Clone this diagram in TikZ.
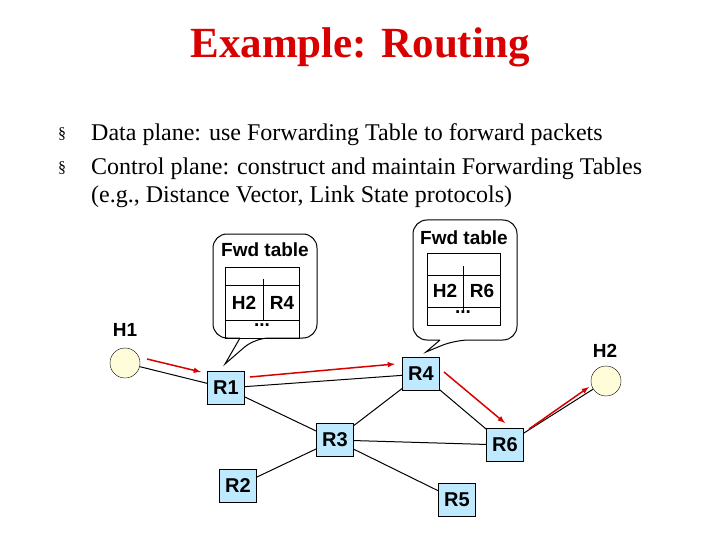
\documentclass[tikz,border=0pt]{standalone}
\usepackage{fontspec}
\setmainfont{Liberation Serif}
\newfontfamily\arial{Liberation Sans}
\begin{document}
\begin{tikzpicture}[x=1pt,y=-1pt,
  rt/.style={draw=black,fill=blue!35!cyan!25,minimum width=37pt,minimum height=33pt,inner sep=0pt,font=\arial\bfseries\fontsize{20}{20}\selectfont},
  host/.style={circle,draw=black,fill=yellow!15,minimum size=30pt,inner sep=0pt},
  lnk/.style={draw=black,line width=1pt},
  red/.style={draw=red!85!black,line width=1.5pt,-latex},
  lab/.style={font=\arial\bfseries\fontsize{19}{19}\selectfont,inner sep=0pt},
  txt/.style={anchor=base west,inner sep=0pt,font=\fontsize{24}{24}\selectfont},
  bubble/.style={draw=black,line width=1pt,rounded corners=14pt}]
\useasboundingbox (0,0) rectangle (720,540);
\node[font=\bfseries\fontsize{43}{43}\selectfont,text=red!85!black] (title) at (360,47) {Example: Routing};
\node[txt,font=\fontsize{16}{16}\selectfont] (b1) at (58,139) {\S};
\node[txt,font=\fontsize{16}{16}\selectfont] (b2) at (58,173) {\S};
\node[txt] (t1) at (91,141) {Data plane: use Forwarding Table to forward packets};
\node[txt] (t2) at (91,175) {Control plane: construct and maintain Forwarding Tables};
\node[txt] (t3) at (91,203) {(e.g., Distance Vector, Link State protocols)};
% bubbles
\draw[bubble] (240,338) -- (213,338) -- (213,234) -- (317,234) -- (317,338) -- (255,338) [sharp corners]-- (225,364) -- (240,338);
\draw[bubble] (440,340) -- (413,340) -- (413,220) -- (517,220) -- (517,340) -- (455,340) [sharp corners]-- (426,352) -- (440,340);
\node[lab] (f1) at (265,250) {Fwd table};
\node[lab] (f2) at (464,238) {Fwd table};
\draw[line width=1pt] (225,267) rectangle (299,338);
\draw[line width=1pt] (225,285) -- (299,285) (225,320) -- (299,320) (263,279) -- (263,320);
\node[lab] (e1) at (244,303) {H2};
\node[lab] (e2) at (282,303) {R4};
\node[lab] (d1) at (262,325) {...};
\draw[line width=1pt] (427,253) rectangle (500,325);
\draw[line width=1pt] (427,275) -- (500,275) (427,307) -- (500,307) (463,266) -- (463,313);
\node[lab] (e3) at (445,291) {H2};
\node[lab] (e4) at (482,291) {R6};
\node[lab] (d2) at (463,312) {...};
% nodes
\node[host] (H1) at (125,363) {};
\node[host] (H2) at (606,381) {};
\node[lab] (h1l) at (125,330) {H1};
\node[lab] (h2l) at (605,351) {H2};
\node[rt] (R1) at (226,388) {R1};
\node[rt] (R4) at (421,374) {R4};
\node[rt] (R3) at (335,440) {R3};
\node[rt] (R6) at (505,445) {R6};
\node[rt] (R2) at (238,486) {R2};
\node[rt] (R5) at (457,500) {R5};
\draw[lnk] (H1) -- (R1);
\draw[lnk] (R1) -- (R4);
\draw[lnk] (R1) -- (R3);
\draw[lnk] (R3) -- (R4);
\draw[lnk] (R3) -- (R6);
\draw[lnk] (R3) -- (R2);
\draw[lnk] (R3) -- (R5);
\draw[lnk] (R4) -- (R6);
\draw[lnk] (R6) -- (H2);
\coordinate (a1) at (147,359); \coordinate (a2) at (201,372);
\coordinate (a3) at (250,377); \coordinate (a4) at (395,364);
\coordinate (a5) at (444,372); \coordinate (a6) at (505,423);
\coordinate (a7) at (529,429); \coordinate (a8) at (589,387);
\draw[red] (a1) -- (a2);
\draw[red] (a3) -- (a4);
\draw[red] (a5) -- (a6);
\draw[red] (a7) -- (a8);
\end{tikzpicture}
\end{document}
